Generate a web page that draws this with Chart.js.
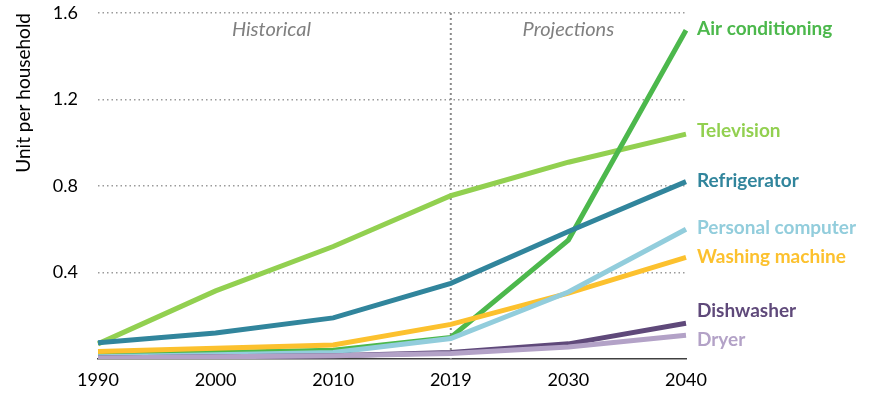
<!DOCTYPE html>
<html>
<head>
<meta charset="utf-8">
<script src="https://cdn.jsdelivr.net/npm/chart.js@4/dist/chart.umd.min.js"></script>
<style>
html,body{margin:0;padding:0;background:#fff;}
#wrap{width:871px;height:402px;}
</style>
</head>
<body>
<div id="wrap"><canvas id="c" width="871" height="402"></canvas></div>
<script>
const years = ["1990", "2000", "2010", "2019", "2030", "2040"];
const airConditioning = [0.02, 0.03, 0.04, 0.10, 0.55, 1.52];
const television = [0.07, 0.315, 0.52, 0.755, 0.91, 1.04];
const refrigerator = [0.075, 0.12, 0.19, 0.35, 0.59, 0.82];
const personalComputer = [0.01, 0.02, 0.03, 0.095, 0.31, 0.60];
const washingMachine = [0.035, 0.05, 0.065, 0.16, 0.305, 0.47];
const dishwasher = [0.005, 0.01, 0.015, 0.03, 0.07, 0.165];
const dryer = [0.005, 0.01, 0.015, 0.025, 0.055, 0.11];
const yTicks = [0.4, 0.8, 1.2, 1.6];
const seriesNames = ["Dryer", "Dishwasher", "Personal computer", "Washing machine", "Refrigerator", "Air conditioning", "Television"];
const periodLabels = ["Historical", "Projections"];
const FONT = "Lato, 'Open Sans', sans-serif";

const seriesValues = [dryer, dishwasher, personalComputer, washingMachine, refrigerator, airConditioning, television];
const seriesColors = ["#b3a2c7", "#5f497a", "#92cddc", "#fcc12e", "#31859c", "#4cb84c", "#92d050"];
const labelOffsets = [5, -12, -1, 0, -1, -1, -3];

const datasets = seriesNames.map((n, i) => ({
  label: n,
  data: seriesValues[i],
  borderColor: seriesColors[i],
  backgroundColor: seriesColors[i],
  borderWidth: 5,
  pointRadius: 0,
  tension: 0,
  fill: false,
  labelOffset: labelOffsets[i]
}));

const overlay = {
  id: 'overlay',
  beforeDatasetsDraw(chart) {
    const {ctx, chartArea, scales} = chart;
    const x19 = scales.x.getPixelForValue(3);
    ctx.save();
    ctx.strokeStyle = '#8a8a8a';
    ctx.lineWidth = 2;
    ctx.setLineDash([2, 3]);
    ctx.beginPath();
    ctx.moveTo(x19, chartArea.top);
    ctx.lineTo(x19, chartArea.bottom);
    ctx.stroke();
    ctx.restore();
  },
  afterDatasetsDraw(chart) {
    const {ctx, chartArea, scales} = chart;
    ctx.save();
    ctx.textBaseline = 'middle';
    ctx.textAlign = 'left';
    ctx.font = "bold 19px " + FONT;
    chart.data.datasets.forEach((ds, i) => {
      const meta = chart.getDatasetMeta(i);
      const pt = meta.data[meta.data.length - 1];
      ctx.fillStyle = ds.borderColor;
      ctx.fillText(ds.label, chartArea.right + 11, pt.y + ds.labelOffset);
    });
    ctx.font = "italic 20px " + FONT;
    ctx.fillStyle = '#808080';
    ctx.textAlign = 'center';
    const x0 = scales.x.getPixelForValue(0);
    const x19 = scales.x.getPixelForValue(3);
    const x40 = scales.x.getPixelForValue(5);
    ctx.fillText(periodLabels[0], (x0 + x19) / 2 - 3, chartArea.top + 17);
    ctx.fillText(periodLabels[1], (x19 + x40) / 2, chartArea.top + 17);
    ctx.restore();
  }
};

new Chart(document.getElementById('c'), {
  type: 'line',
  data: { labels: years, datasets },
  options: {
    responsive: false,
    animation: false,
    layout: { padding: { left: 0, right: 185, top: 13, bottom: 13 } },
    plugins: { legend: { display: false }, tooltip: { enabled: false } },
    scales: {
      x: {
        offset: false,
        afterFit(scale) { scale.height = 30; },
        grid: { display: false, drawTicks: false },
        border: { display: true, color: '#404040', width: 1.5 },
        ticks: { color: '#000', font: { family: FONT, size: 18 }, padding: 10, maxRotation: 0 }
      },
      y: {
        min: 0,
        max: 1.6,
        afterFit(scale) { scale.width = 98; scale.paddingTop = 0; scale.paddingBottom = 0; },
        afterBuildTicks(scale) { scale.ticks = [0].concat(yTicks).map(v => ({ value: v })); },
        grid: {
          drawTicks: false,
          color: (c) => (c.tick && c.tick.value === 0) ? 'rgba(0,0,0,0)' : '#9a9a9a',
          lineWidth: 1.5
        },
        border: { display: false, dash: [1.5, 3] },
        ticks: {
          color: '#000',
          font: { family: FONT, size: 18 },
          padding: 20,
          callback: (v) => v === 0 ? '' : v.toFixed(1)
        },
        title: {
          display: true,
          align: 'end',
          text: 'Unit per household',
          color: '#000',
          font: { family: FONT, size: 19 },
          padding: { top: 12, bottom: 0 }
        }
      }
    }
  },
  plugins: [overlay]
});
</script>
</body>
</html>
